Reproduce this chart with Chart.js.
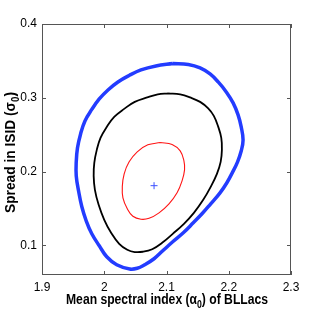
<!DOCTYPE html>
<html>
<head>
<meta charset="utf-8">
<script src="https://cdn.jsdelivr.net/npm/chart.js@4"></script>
<style>
  body { margin: 0; background: #fff; }
  canvas { display: block; }
</style>
</head>
<body>
<canvas id="contourChart" width="322" height="316"></canvas>
<script>
// contour levels (alpha0, sigma0), clockwise from the top
const blueX = [2.110, 2.135, 2.154, 2.170, 2.183, 2.196, 2.207, 2.215, 2.220, 2.223, 2.220, 2.214, 2.206, 2.197, 2.186, 2.171, 2.157, 2.143, 2.127, 2.110, 2.094, 2.080, 2.065, 2.053, 2.041, 2.020, 2.004, 1.992, 1.980, 1.971, 1.964, 1.959, 1.955, 1.955, 1.957, 1.962, 1.969, 1.980, 1.992, 2.006, 2.022, 2.040, 2.059, 2.083];
const blueY = [0.3465, 0.3452, 0.3405, 0.3323, 0.3215, 0.3080, 0.2931, 0.2769, 0.2606, 0.2430, 0.2280, 0.2130, 0.1990, 0.1850, 0.1713, 0.1564, 0.1429, 0.1307, 0.1172, 0.1050, 0.0928, 0.0820, 0.0739, 0.0691, 0.0681, 0.0739, 0.0847, 0.0996, 0.1158, 0.1334, 0.1524, 0.1727, 0.1943, 0.2133, 0.2322, 0.2511, 0.2687, 0.2843, 0.2985, 0.3107, 0.3215, 0.3303, 0.3378, 0.3432];

const blackX = [2.103, 2.122, 2.138, 2.154, 2.167, 2.176, 2.183, 2.188, 2.189, 2.187, 2.181, 2.171, 2.159, 2.144, 2.128, 2.110, 2.093, 2.077, 2.062, 2.049, 2.037, 2.024, 2.011, 2.000, 1.991, 1.985, 1.983, 1.984, 1.988, 1.994, 2.004, 2.016, 2.032, 2.049, 2.069, 2.086];
const blackY = [0.3060, 0.3046, 0.3005, 0.2945, 0.2857, 0.2755, 0.2610, 0.2457, 0.2295, 0.2133, 0.1970, 0.1794, 0.1618, 0.1442, 0.1294, 0.1158, 0.1036, 0.0949, 0.0915, 0.0911, 0.0942, 0.1023, 0.1172, 0.1348, 0.1551, 0.1754, 0.1943, 0.2119, 0.2295, 0.2457, 0.2606, 0.2742, 0.2850, 0.2945, 0.3005, 0.3046];

const redX = [2.090, 2.109, 2.122, 2.128, 2.129, 2.125, 2.117, 2.104, 2.088, 2.072, 2.059, 2.046, 2.037, 2.030, 2.029, 2.032, 2.040, 2.053, 2.070];
const redY = [0.2394, 0.2369, 0.2281, 0.2146, 0.2024, 0.1875, 0.1713, 0.1564, 0.1442, 0.1368, 0.1355, 0.1395, 0.1497, 0.1645, 0.1798, 0.1970, 0.2133, 0.2268, 0.2363];

const bestX = [2.080];
const bestY = [0.181];

const xTickVals = [1.9, 2.0, 2.1, 2.2, 2.3];
const xTickLabels = ['1.9', '2', '2.1', '2.2', '2.3'];
const yTickVals = [0.1, 0.2, 0.3, 0.4];
const yTickLabels = ['0.1', '0.2', '0.3', '0.4'];

// axis titles, the middle piece is a subscript
const xTitle = ['Mean spectral index (α', '0', ') of BLLacs'];
const yTitle = ['Spread in ISID (σ', '0', ')'];

function loop(xs, ys) {
    const pts = xs.map((x, i) => ({ x: x, y: ys[i] }));
    pts.push(pts[0]);
    return pts;
}

const mainFont = 'bold 14px "Liberation Sans", Arial, sans-serif';
const subFont = 'bold 10px "Liberation Sans", Arial, sans-serif';

// condensed bold title with a subscript, squeezed to the width seen in the picture
function drawTitle(ctx, parts, width) {
    ctx.font = mainFont;
    const w0 = ctx.measureText(parts[0]).width;
    const w2 = ctx.measureText(parts[2]).width;
    ctx.font = subFont;
    const w1 = ctx.measureText(parts[1]).width;
    const total = w0 + w1 + w2;
    ctx.scale(width / total, 1);
    ctx.textBaseline = 'alphabetic';
    ctx.textAlign = 'left';
    ctx.fillStyle = '#000';
    let x = -total / 2;
    ctx.font = mainFont;
    ctx.fillText(parts[0], x, 0);
    x += w0;
    ctx.font = subFont;
    ctx.fillText(parts[1], x, 4);
    x += w1;
    ctx.font = mainFont;
    ctx.fillText(parts[2], x, 0);
}

// matlab style box with ticks pointing inward, plus the two titles
const boxPlugin = {
    id: 'box',
    afterDraw(chart) {
        const ctx = chart.ctx;
        const a = chart.chartArea;
        const xs = chart.scales.x, ys = chart.scales.y;
        ctx.save();
        ctx.strokeStyle = '#555';
        ctx.lineWidth = 1;
        ctx.strokeRect(a.left + 0.5, a.top + 0.5, a.right - a.left - 1, a.bottom - a.top - 1);
        ctx.beginPath();
        xTickVals.forEach(v => {
            const p = Math.round(xs.getPixelForValue(v)) + 0.5;
            ctx.moveTo(p, a.bottom); ctx.lineTo(p, a.bottom - 4);
            ctx.moveTo(p, a.top); ctx.lineTo(p, a.top + 4);
        });
        yTickVals.forEach(v => {
            const p = Math.round(ys.getPixelForValue(v)) + 0.5;
            ctx.moveTo(a.left, p); ctx.lineTo(a.left + 4, p);
            ctx.moveTo(a.right, p); ctx.lineTo(a.right - 4, p);
        });
        ctx.stroke();
        ctx.restore();

        ctx.save();
        ctx.translate((a.left + a.right) / 2 + 0.5, 304);
        drawTitle(ctx, xTitle, 202);
        ctx.restore();

        ctx.save();
        ctx.translate(14.5, (a.top + a.bottom) / 2 + 3);
        ctx.rotate(-Math.PI / 2);
        drawTitle(ctx, yTitle, 121);
        ctx.restore();
    }
};

const tickFont = { family: "'Liberation Sans', Arial, sans-serif", size: 12 };

const ctx = document.getElementById('contourChart').getContext('2d');
const myChart = new Chart(ctx, {
    type: 'scatter',
    data: {
        datasets: [{
            data: loop(blueX, blueY),
            showLine: true,
            borderColor: 'rgb(35, 60, 255)',
            borderWidth: 3.5,
            pointRadius: 0,
            tension: 0.4
        }, {
            data: loop(blackX, blackY),
            showLine: true,
            borderColor: '#000',
            borderWidth: 1.8,
            pointRadius: 0,
            tension: 0.4
        }, {
            data: loop(redX, redY),
            showLine: true,
            borderColor: 'rgb(255, 20, 20)',
            borderWidth: 1.1,
            pointRadius: 0,
            tension: 0.4
        }, {
            data: bestX.map((x, i) => ({ x: x, y: bestY[i] })),
            showLine: false,
            pointStyle: 'cross',
            pointRadius: 3.5,
            borderColor: 'rgb(60, 80, 255)',
            borderWidth: 1
        }]
    },
    options: {
        responsive: false,
        devicePixelRatio: 1,
        animation: false,
        layout: { padding: { top: 24, right: 31, left: 0, bottom: 0 } },
        plugins: { legend: { display: false }, tooltip: { enabled: false } },
        scales: {
            x: {
                type: 'linear',
                min: 1.9,
                max: 2.3,
                afterBuildTicks: s => { s.ticks = xTickVals.map(v => ({ value: v })); },
                afterFit: s => { s.height = 41; },
                grid: { display: false, drawTicks: false },
                border: { display: false },
                ticks: {
                    color: '#000',
                    padding: 5,
                    maxRotation: 0,
                    font: tickFont,
                    callback: (v, i) => xTickLabels[i]
                },
                title: { display: false }
            },
            y: {
                type: 'linear',
                min: 0.06,
                max: 0.4,
                afterBuildTicks: s => { s.ticks = yTickVals.map(v => ({ value: v })); },
                afterFit: s => { s.width = 42; },
                grid: { display: false, drawTicks: false },
                border: { display: false },
                ticks: {
                    color: '#000',
                    padding: 5,
                    font: tickFont,
                    callback: (v, i) => yTickLabels[i]
                },
                title: { display: false }
            }
        }
    },
    plugins: [boxPlugin]
});
</script>
</body>
</html>
